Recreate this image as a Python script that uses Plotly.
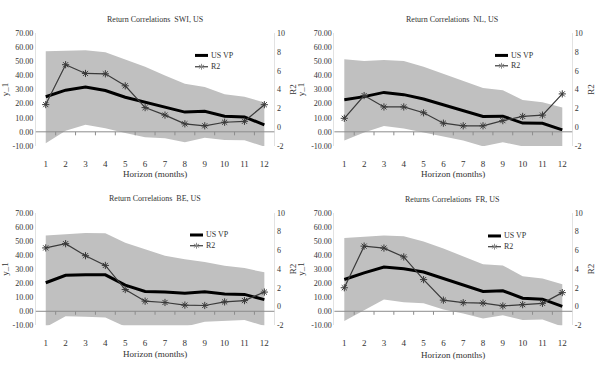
import plotly.graph_objects as go

# ---------------- data ----------------
horizons = [1, 2, 3, 4, 5, 6, 7, 8, 9, 10, 11, 12]

titles = ["Return Correlations\u00a0 SWI, US",
          "Return Correlations\u00a0 NL, US",
          "Return Correlations\u00a0 BE, US",
          "Returns Correlations\u00a0 FR, US"]

usvp_swi = [24.9, 29.6, 31.9, 29.3, 24.6, 21.0, 17.8, 14.0, 14.6, 11.0, 10.6, 4.9]
r2_swi = [2.4, 6.65, 5.72, 5.68, 4.4, 2.08, 1.28, 0.35, 0.14, 0.52, 0.62, 2.39]
upper_swi = [57.3, 57.7, 58.0, 56.6, 51.5, 46.2, 40.0, 34.2, 31.9, 26.6, 24.9, 20.8]
lower_swi = [-8.2, 0.7, 5.1, 2.5, -0.9, -3.9, -4.6, -7.4, -4.2, -5.8, -6.0, -10.5]

usvp_nl = [22.8, 25.0, 28.0, 26.4, 23.3, 19.2, 15.0, 10.9, 11.1, 6.2, 6.0, 1.4]
r2_nl = [0.94, 3.36, 2.15, 2.15, 1.53, 0.42, 0.14, 0.14, 0.69, 1.14, 1.28, 3.54]
upper_nl = [51.5, 50.3, 51.0, 50.3, 46.2, 41.1, 35.8, 31.2, 29.6, 22.6, 21.0, 17.3]
lower_nl = [-6.2, -0.5, 4.2, 2.3, -0.5, -3.5, -6.2, -10.3, -7.4, -10.3, -10.2, -10.2]

usvp_be = [20.3, 25.6, 25.9, 25.9, 18.6, 14.1, 13.7, 12.8, 13.9, 12.3, 12.0, 8.3]
r2_be = [6.26, 6.71, 5.43, 4.39, 1.82, 0.58, 0.44, 0.16, 0.12, 0.5, 0.64, 1.55]
upper_be = [53.8, 54.5, 55.7, 55.4, 48.7, 44.1, 39.5, 37.0, 35.1, 32.3, 30.7, 27.7]
lower_be = [-11.3, -3.5, -3.9, -4.4, -10.9, -12.0, -11.0, -11.0, -7.4, -6.7, -6.2, -10.4]

usvp_fr = [22.6, 27.3, 31.4, 30.2, 27.9, 23.3, 18.5, 14.1, 14.6, 9.3, 8.6, 3.5]
r2_fr = [2.01, 6.45, 6.24, 5.3, 2.88, 0.69, 0.42, 0.38, 0.07, 0.21, 0.35, 1.49]
upper_fr = [52.2, 53.1, 53.8, 53.3, 49.7, 44.6, 38.8, 33.5, 32.6, 24.9, 23.3, 19.2]
lower_fr = [-6.9, 0.7, 8.3, 6.5, 5.8, 1.2, -1.6, -5.1, -2.8, -6.2, -5.8, -10.9]

y1_ticks = [-10, 0, 10, 20, 30, 40, 50, 60, 70]
y1_ticktext = ["%.2f" % v for v in y1_ticks]
r2_ticks = [-2, 0, 2, 4, 6, 8, 10]
r2_ticktext = [str(v) for v in r2_ticks]
x_title = "Horizon (months)"

series = [
    (usvp_swi, r2_swi, upper_swi, lower_swi),
    (usvp_nl, r2_nl, upper_nl, lower_nl),
    (usvp_be, r2_be, upper_be, lower_be),
    (usvp_fr, r2_fr, upper_fr, lower_fr),
]

# ---------------- layout geometry (pixels) ----------------
W, H = 600, 373
FONT = "Liberation Serif, Times New Roman, serif"
TXT = "#333333"
BAND = "#c0c0c0"

# plot boxes: (left, right, top, bottom) in px
boxes = [
    (35.8, 274.3, 30.0, 145.4),
    (334.4, 572.2, 30.0, 145.4),
    (35.8, 274.3, 214.0, 329.3),
    (334.4, 572.2, 214.0, 329.3),
]
title_pos = [(155, 16), (452, 16), (155, 199.5), (452, 200)]
xtitle_y = [174.5, 174.5, 359, 359.3]
legend_pos = [(195, 52.7, 64.3), (495, 52.7, 63.3), (190, 236.7, 247.7), (488, 237.7, 248.7)]


def px(x):
    return x / W


def py(y):
    return 1 - y / H


fig = go.Figure()
layout = dict(
    width=W, height=H, margin=dict(l=0, r=0, t=0, b=0),
    paper_bgcolor="white", plot_bgcolor="white", showlegend=False,
    font=dict(family=FONT, size=8, color=TXT),
)
shapes = []
annotations = []

for i, (usvp, r2, upper, lower) in enumerate(series):
    xa = "x" if i == 0 else "x%d" % (i + 1)
    ya = "y" if i == 0 else "y%d" % (2 * i + 1)
    yb = "y%d" % (2 * i + 2)
    xkey = "xaxis" if i == 0 else "xaxis%d" % (i + 1)
    ykey = "yaxis" if i == 0 else "yaxis%d" % (2 * i + 1)
    ykey2 = "yaxis%d" % (2 * i + 2)
    l, r, t, b = boxes[i]

    fig.add_trace(go.Scatter(x=horizons, y=lower, xaxis=xa, yaxis=ya, mode="lines",
                             line=dict(width=0, color=BAND), hoverinfo="skip"))
    fig.add_trace(go.Scatter(x=horizons, y=upper, xaxis=xa, yaxis=ya, mode="lines",
                             line=dict(width=0, color=BAND), fill="tonexty",
                             fillcolor=BAND, hoverinfo="skip"))
    fig.add_trace(go.Scatter(x=horizons, y=usvp, xaxis=xa, yaxis=ya, mode="lines",
                             name="US VP", line=dict(width=3, color="black")))
    fig.add_trace(go.Scatter(x=horizons, y=r2, xaxis=xa, yaxis=yb, mode="lines+markers",
                             name="R2", line=dict(width=1.2, color="#3a3a3a"),
                             marker=dict(symbol="asterisk-open", size=6,
                                         line=dict(width=1, color="#8a8a8a"))))

    layout[xkey] = dict(
        domain=[px(l), px(r)], anchor=ya, range=[0.5, 12.5],
        tickvals=horizons, ticktext=[str(h) for h in horizons],
        ticks="outside", ticklen=9, tickcolor="rgba(0,0,0,0)",
        showline=False, showgrid=False, zeroline=False,
        tickfont=dict(size=9, color=TXT, family=FONT),
    )
    layout[ykey] = dict(
        domain=[py(b), py(t)], anchor=xa, range=[-10, 70],
        tickvals=y1_ticks, ticktext=y1_ticktext, ticks="",
        showline=True, linecolor="#e2e2e2", linewidth=1,
        showgrid=False, zeroline=False,
        tickfont=dict(size=8, color=TXT, family=FONT),
        title=dict(text="y_1", font=dict(size=9, color=TXT, family=FONT), standoff=4),
    )
    layout[ykey2] = dict(
        overlaying=ya, side="right", anchor=xa, range=[-2, 10],
        tickvals=r2_ticks, ticktext=r2_ticktext, ticks="",
        showline=True, linecolor="#e2e2e2", linewidth=1,
        showgrid=False, zeroline=False,
        tickfont=dict(size=8, color=TXT, family=FONT),
        title=dict(text="R2", font=dict(size=9, color=TXT, family=FONT), standoff=5),
    )

    # zero reference line drawn over the band
    shapes.append(dict(type="line", xref="%s domain" % xa, yref=ya, x0=0, x1=1, y0=0, y1=0,
                       layer="above", line=dict(color="#8c8c8c", width=1)))
    # small category-boundary ticks hanging from the zero line
    for h in horizons[:-1]:
        shapes.append(dict(type="line", xref=xa, yref=ya, x0=h + 0.5, x1=h + 0.5,
                           ysizemode="pixel", yanchor=0, y0=0, y1=-3.5, layer="above",
                           line=dict(color="#8c8c8c", width=1)))

    # title
    tx, ty = title_pos[i]
    annotations.append(dict(text=titles[i], x=px(tx), y=py(ty), xref="paper", yref="paper",
                            showarrow=False, xanchor="center", yanchor="middle",
                            font=dict(size=8, color=TXT, family=FONT)))
    # x-axis title
    annotations.append(dict(text=x_title, x=px((l + r) / 2), y=py(xtitle_y[i]),
                            xref="paper", yref="paper", showarrow=False,
                            xanchor="center", yanchor="middle",
                            font=dict(size=9, color=TXT, family=FONT)))

    # manual legend
    lx, r1, r2y = legend_pos[i]
    shapes.append(dict(type="line", xref="paper", yref="paper", x0=px(lx), x1=px(lx + 13),
                       y0=py(r1), y1=py(r1), line=dict(color="black", width=3)))
    shapes.append(dict(type="line", xref="paper", yref="paper", x0=px(lx), x1=px(lx + 13),
                       y0=py(r2y), y1=py(r2y), line=dict(color="#3a3a3a", width=1.2)))
    cx = lx + 6.5
    for dx, dy in [(0, 3), (2.6, 1.8), (-2.6, 1.8)]:
        shapes.append(dict(type="line", xref="paper", yref="paper",
                           x0=px(cx - dx), x1=px(cx + dx), y0=py(r2y - dy), y1=py(r2y + dy),
                           line=dict(color="#8a8a8a", width=1)))
    annotations.append(dict(text="US VP", x=px(lx + 14), y=py(r1), xref="paper", yref="paper",
                            showarrow=False, xanchor="left", yanchor="middle",
                            font=dict(size=8, color=TXT, family=FONT)))
    annotations.append(dict(text="R2", x=px(lx + 14), y=py(r2y), xref="paper", yref="paper",
                            showarrow=False, xanchor="left", yanchor="middle",
                            font=dict(size=8, color=TXT, family=FONT)))

layout["shapes"] = shapes
layout["annotations"] = annotations
fig.update_layout(**layout)

fig.write_html("out.html", config={"displayModeBar": False},
               post_script="document.body.style.margin='0px';document.body.style.padding='0px';")
